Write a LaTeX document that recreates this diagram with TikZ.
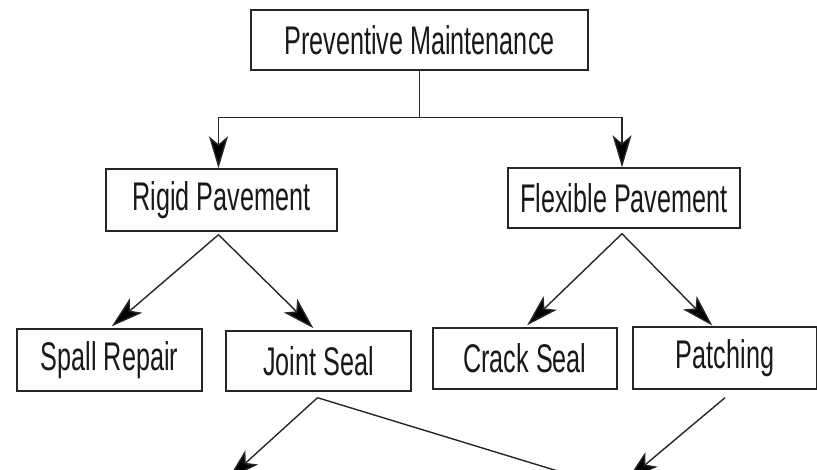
\documentclass[tikz,border=0pt]{standalone}
\usepackage{fontspec}
\setmainfont[FakeStretch=0.63]{Liberation Sans}
\usetikzlibrary{arrows.meta}

\tikzset{
	box/.style = {draw = black!85, line width = 1.4pt, inner sep = 0pt, text = black!90,
		font = \fontsize{40}{44}\selectfont},
	link/.style = {draw = black!85, line width = 1.4pt},
	tip/.tip = {Stealth[length=32pt,width=19pt,inset=8pt,fill=black]},
	arr/.style = {link, arrows = {-tip}},
}

\begin{document}
\begin{tikzpicture}[x = 1pt, y = -1pt]
	\useasboundingbox (0, 0) rectangle (817, 469);
	\clip (0, 0) rectangle (817, 469);
	
	% 顶层
	\node [box, minimum width = 337pt, minimum height = 60pt] (pm) at (419.5, 40) {Preventive Maintenance};
	
	% 第二层
	\node [box, minimum width = 231pt, minimum height = 62pt] (rigid) at (221.5, 200) {Rigid Pavement};
	\node [box, minimum width = 232pt, minimum height = 60pt] (flex) at (624, 198) {Flexible Pavement};
	
	% 第三层
	\node [box, minimum width = 185pt, minimum height = 62pt] (spall) at (109.5, 360) {Spall Repair};
	\node [box, minimum width = 185pt, minimum height = 60pt] (joint) at (318.5, 361) {Joint Seal};
	\node [box, minimum width = 184pt, minimum height = 61pt] (crack) at (525, 358.5) {Crack Seal};
	\node [box, minimum width = 184pt, minimum height = 62pt] (patch) at (725, 358) {Patching};
	
	% lines
	\draw [link] (pm.south) -- ++(0, 47) coordinate (split);
	\draw [arr] (split) -| ([xshift = -3pt] rigid.north);
	\draw [arr] (split) -| ([xshift = -2pt] flex.north);
	
	\coordinate (rapex) at ([xshift = -3pt, yshift = -3pt] rigid.south);
	\coordinate (fapex) at ([xshift = -2pt, yshift = -5pt] flex.south);
	\draw [arr, shorten > = 3pt] (rapex) -- (spall.north);
	\draw [arr, shorten > = 3pt] (rapex) -- ([xshift = -3pt] joint.north);
	\draw [arr, shorten > = 3pt] (fapex) -- (crack.north);
	\draw [arr, shorten > = 1pt] (fapex) -- ([xshift = -12pt] patch.north);
	
	% 向下 (出画面)
	\coordinate (jfoot) at ([xshift = -1pt, yshift = -6pt] joint.south);
	\coordinate (pfoot) at ([yshift = -8pt] patch.south);
	\coordinate (offl) at (228, 479);
	\coordinate (offm) at (620, 490);
	\coordinate (offr) at (627, 480);
	\draw [arr] (jfoot) -- (offl);
	\draw [arr] (jfoot) -- (offm);
	\draw [arr] (pfoot) -- (offr);
\end{tikzpicture}
\end{document}
